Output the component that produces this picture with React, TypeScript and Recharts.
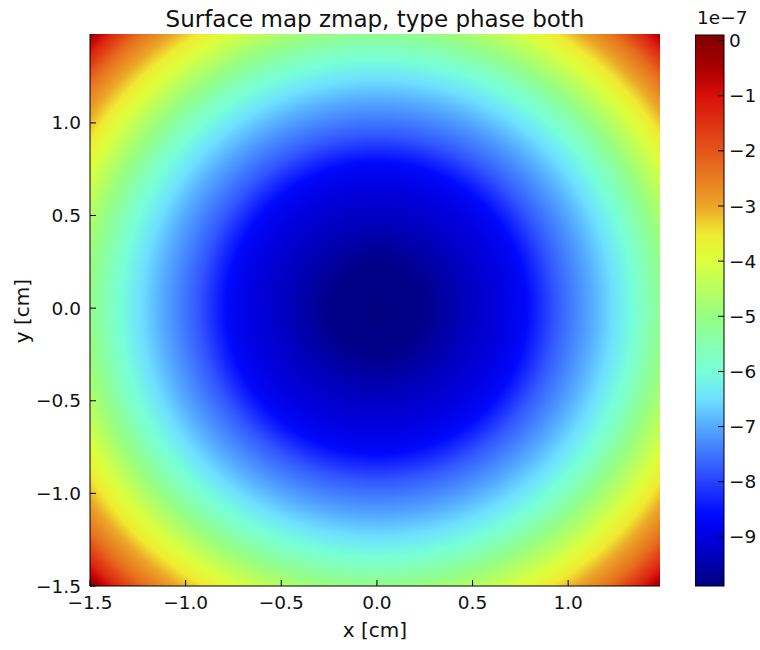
import { ScatterChart, XAxis, YAxis, ReferenceArea } from "recharts"

// radial profile of the surface (radius from centre in cm -> z in units of 1e-7)
const radiusCm = [0, 0.25, 0.48, 0.65, 0.77, 0.93, 1.12, 1.27, 1.39, 1.5, 1.75, 1.93, 2.03, 2.12]
const zValue = [-9.89, -9.8, -9.3, -9.0, -8.7, -7.8, -7.0, -6.35, -5.75, -5.05, -3.5, -2.3, -1.3, 0.0]
const centre = [0, 0]
const extent = [-1.5, 1.48]
const axisTicks = [-1.5, -1.0, -0.5, 0, 0.5, 1.0]
const colorbarTicks = [0, -1, -2, -3, -4, -5, -6, -7, -8, -9]
const zMin = -9.89
const zMax = 0.1

const FONT = "'DejaVu Sans', sans-serif"
const FS = 18.5

// jet-like colour map, as it appears in the picture (slightly washed out)
const CMAP: [number, number, number, number][] = [
  [0.0, 0, 0, 128],
  [0.09, 0, 0, 225],
  [0.13, 0, 10, 255],
  [0.19, 40, 65, 255],
  [0.29, 85, 170, 255],
  [0.34, 110, 225, 255],
  [0.39, 120, 255, 215],
  [0.49, 150, 255, 130],
  [0.59, 220, 255, 60],
  [0.64, 240, 235, 50],
  [0.69, 235, 165, 40],
  [0.79, 228, 85, 25],
  [0.89, 215, 15, 10],
  [0.94, 170, 0, 0],
  [1.0, 128, 0, 0],
]
function cmap(t: number) {
  const c = Math.max(0, Math.min(1, t))
  for (let i = 1; i < CMAP.length; i++) {
    if (c <= CMAP[i][0]) {
      const a = CMAP[i - 1]
      const b = CMAP[i]
      const f = (c - a[0]) / (b[0] - a[0])
      const m = (k: number) => Math.round(a[k] + (b[k] - a[k]) * f)
      return `rgb(${m(1)},${m(2)},${m(3)})`
    }
  }
  return "rgb(128,0,0)"
}
const norm = (v: number) => (v - zMin) / (zMax - zMin)

const minus = (s: string) => s.replace("-", "\u2212")
const fmtAxis = (v: number) => minus(v.toFixed(1))
const fmtBar = (v: number) => minus(String(v))

function SurfaceShape(props: any) {
  const { x, y, width, height } = props
  const span = extent[1] - extent[0]
  const rMax = radiusCm[radiusCm.length - 1]
  const stops: { o: number; c: string }[] = []
  for (let i = 0; i < radiusCm.length - 1; i++) {
    for (let k = 0; k < 8; k++) {
      const f = k / 8
      const r = radiusCm[i] + (radiusCm[i + 1] - radiusCm[i]) * f
      const v = zValue[i] + (zValue[i + 1] - zValue[i]) * f
      stops.push({ o: r / rMax, c: cmap(norm(v)) })
    }
  }
  stops.push({ o: 1, c: cmap(norm(zValue[zValue.length - 1])) })
  return (
    <g>
      <defs>
        <radialGradient
          id="surf"
          gradientUnits="objectBoundingBox"
          cx={(centre[0] - extent[0]) / span}
          cy={(extent[1] - centre[1]) / span}
          r={rMax / span}
        >
          {stops.map((s, i) => (
            <stop key={i} offset={s.o} stopColor={s.c} />
          ))}
        </radialGradient>
      </defs>
      <rect x={x} y={y} width={width} height={height} fill="url(#surf)" />
    </g>
  )
}

function ColorbarShape(props: any) {
  const { x, y, width, height } = props
  const n = 80
  return (
    <g>
      <defs>
        <linearGradient id="jetbar" x1="0" y1="1" x2="0" y2="0">
          {Array.from({ length: n + 1 }, (_, i) => (
            <stop key={i} offset={i / n} stopColor={cmap(i / n)} />
          ))}
        </linearGradient>
      </defs>
      <rect x={x} y={y} width={width} height={height} fill="url(#jetbar)" stroke="#000" strokeWidth={1} />
    </g>
  )
}

const tickStyle = { fill: "#111", fontSize: FS, fontFamily: FONT }

export default function App() {
  return (
    <div style={{ position: "absolute", left: 0, top: 0, width: 760, height: 650, background: "#fff", fontFamily: FONT, color: "#111" }}>
      <div style={{ position: "absolute", left: 0, top: 0 }}>
        <ScatterChart width={760} height={650} margin={{ top: 34, right: 100, bottom: 0, left: 0 }}>
          <ReferenceArea xAxisId="b" yAxisId="l" x1={extent[0]} x2={extent[1]} y1={extent[0]} y2={extent[1]} shape={<SurfaceShape />} />
          <XAxis
            xAxisId="b"
            type="number"
            dataKey="x"
            domain={extent}
            ticks={axisTicks}
            allowDataOverflow
            height={64}
            stroke="#000"
            tickSize={-6}
            tickMargin={16}
            tick={tickStyle}
            tickFormatter={fmtAxis}
            interval={0}
          />
          <XAxis xAxisId="t" orientation="top" type="number" dataKey="x" domain={extent} ticks={axisTicks} allowDataOverflow height={0} stroke="#000" tickSize={-6} tick={false} interval={0} />
          <YAxis
            yAxisId="l"
            type="number"
            dataKey="y"
            domain={extent}
            ticks={axisTicks}
            allowDataOverflow
            width={90}
            stroke="#000"
            tickSize={-6}
            tickMargin={15}
            tick={tickStyle}
            tickFormatter={fmtAxis}
            interval={0}
          />
          <YAxis yAxisId="r" orientation="right" type="number" dataKey="y" domain={extent} ticks={axisTicks} allowDataOverflow width={0} stroke="#000" tickSize={-6} tick={false} interval={0} />
        </ScatterChart>
      </div>
      <div style={{ position: "absolute", left: 695, top: 0 }}>
        <ScatterChart width={65} height={650} margin={{ top: 35, right: 0, bottom: 64, left: 0 }}>
          <ReferenceArea xAxisId="cb" yAxisId="cb" x1={0} x2={1} y1={zMin} y2={zMax} shape={<ColorbarShape />} />
          <XAxis xAxisId="cb" type="number" dataKey="x" domain={[0, 1]} allowDataOverflow hide />
          <YAxis
            yAxisId="cb"
            orientation="right"
            type="number"
            dataKey="z"
            domain={[zMin, zMax]}
            ticks={colorbarTicks}
            allowDataOverflow
            width={36}
            axisLine={false}
            stroke="#000"
            tickSize={-6}
            tickMargin={11}
            tick={tickStyle}
            tickFormatter={fmtBar}
            interval={0}
          />
        </ScatterChart>
      </div>
      <div style={{ position: "absolute", left: 90, width: 570, top: 6, textAlign: "center", fontSize: 23, lineHeight: "27px", whiteSpace: "nowrap" }}>
        Surface map zmap, type phase both
      </div>
      <div style={{ position: "absolute", left: 697, top: 7, fontSize: FS, lineHeight: "22px" }}>1e{"\u2212"}7</div>
      <div style={{ position: "absolute", left: 90, width: 570, top: 618, textAlign: "center", fontSize: 20, lineHeight: "24px" }}>x [cm]</div>
      <div
        style={{
          position: "absolute",
          left: 22,
          top: 311,
          fontSize: 20,
          lineHeight: "24px",
          whiteSpace: "nowrap",
          transform: "translate(-50%, -50%) rotate(-90deg)",
        }}
      >
        y [cm]
      </div>
    </div>
  )
}
